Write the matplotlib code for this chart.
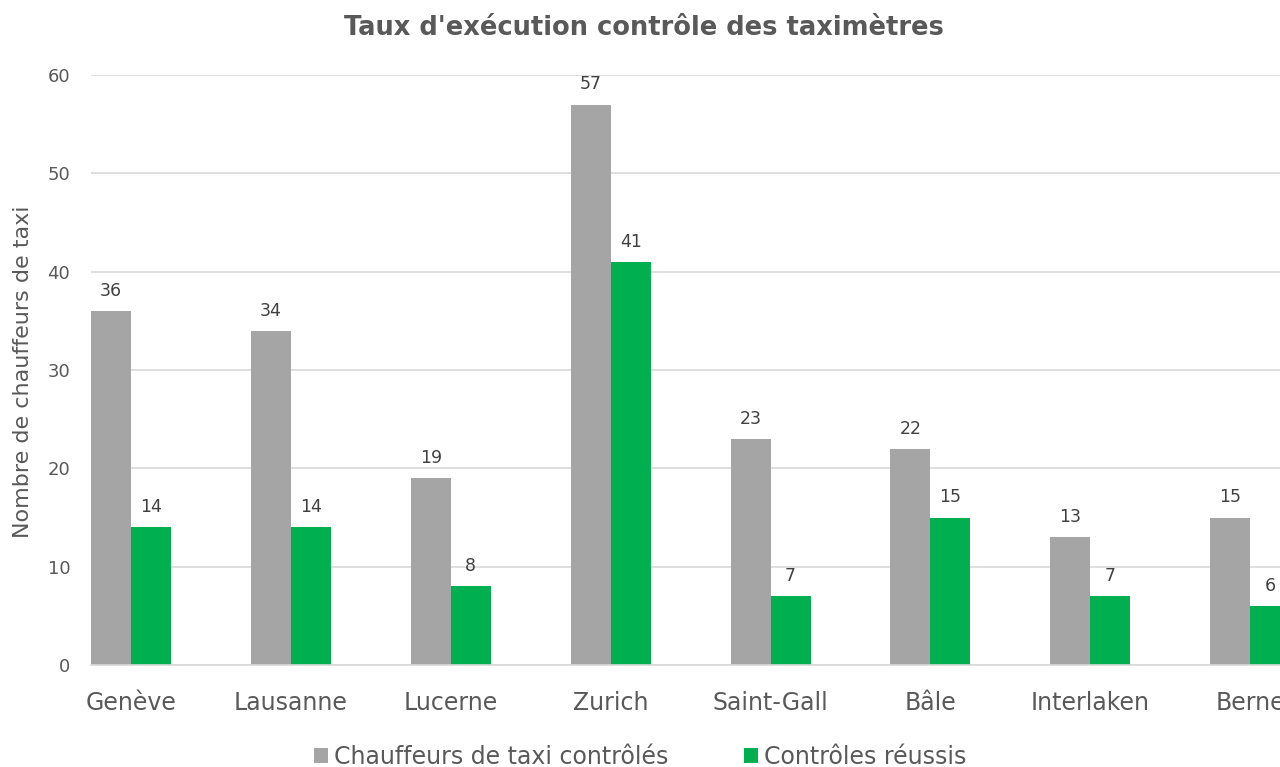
import numpy as np
import matplotlib
matplotlib.use("Agg")
import matplotlib.pyplot as plt
from matplotlib.patches import Patch

# données du graphique
villes = ["Genève", "Lausanne", "Lucerne", "Zurich", "Saint-Gall", "Bâle", "Interlaken", "Berne"]
controles = [36, 34, 19, 57, 23, 22, 13, 15]
reussis = [14, 14, 8, 41, 7, 15, 7, 6]
serie_noms = ["Chauffeurs de taxi contrôlés", "Contrôles réussis"]

GRIS = "#A5A5A5"
VERT = "#00B050"
TEXTE = "#595959"

plt.rcParams['font.family'] = ['DejaVu Sans']

fig = plt.figure(figsize=(12.8, 7.67), dpi=100)
ax = fig.add_axes([91 / 1280, 102 / 767, 1 - 91 / 1280, 590 / 767])

x = np.arange(len(villes))
w = 0.25
b1 = ax.bar(x - w / 2, controles, w, color=GRIS, zorder=2)
b2 = ax.bar(x + w / 2, reussis, w, color=VERT, zorder=2)

# étiquettes de valeurs
for bars in (b1, b2):
    for r in bars:
        ax.annotate(f"{r.get_height():.0f}", (r.get_x() + r.get_width() / 2, r.get_height()),
                    xytext=(0, 8), textcoords="offset points", ha="center", va="bottom",
                    fontsize=12.5, color="#404040")

# le graphique d'origine est coupé à droite (Berne)
ax.set_xlim(-0.25, 7.186)
ax.set_ylim(0, 60)
ax.set_yticks(range(0, 61, 10))
ax.grid(axis="y", color="#D9D9D9", linewidth=1.2, zorder=0)
ax.set_axisbelow(True)
for s in ["top", "right", "left"]:
    ax.spines[s].set_visible(False)
ax.spines["bottom"].set_color("#D9D9D9")
ax.spines["bottom"].set_linewidth(1.2)

ax.set_xticks(x)
ax.set_xticklabels(villes, fontsize=17, color=TEXTE)
ax.tick_params(axis="x", length=0, pad=19)
ax.tick_params(axis="y", length=0, pad=15, labelsize=13, labelcolor=TEXTE)

ax.set_ylabel("Nombre de chauffeurs de taxi", fontsize=16, color=TEXTE)
ax.yaxis.set_label_coords(-58 / 1189, (372 - 75) / -590 + 1, transform=ax.transAxes)

fig.suptitle("Taux d'exécution contrôle des taximètres", x=0.503, y=1 - 28 / 767, va="center",
             fontsize=18.5, fontweight="bold", color=TEXTE)

handles = [Patch(facecolor=GRIS), Patch(facecolor=VERT)]
fig.legend(handles, serie_noms, loc="center", bbox_to_anchor=(0.5, 10 / 767), ncol=2,
           frameon=False, fontsize=17, labelcolor=TEXTE, handlelength=0.6, handleheight=0.6,
           handletextpad=0.25, columnspacing=3.2)

fig.savefig("out.png", dpi=100, facecolor="white")
